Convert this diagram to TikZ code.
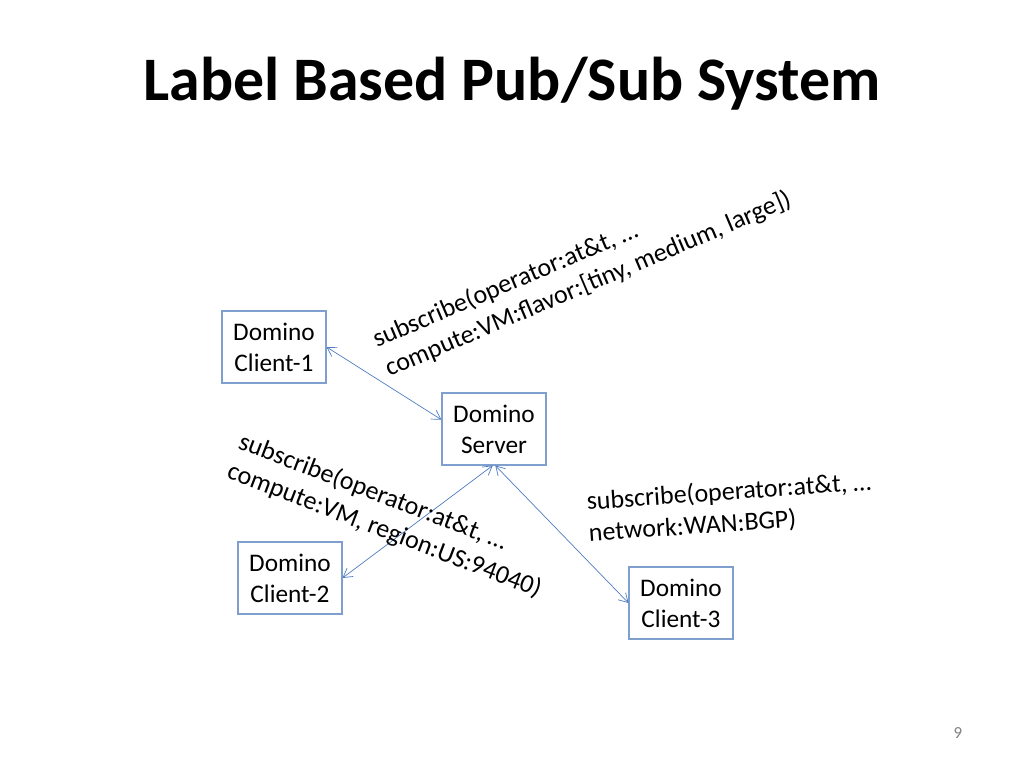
\documentclass[tikz,border=0pt]{standalone}
\usepackage{fontspec}
\setmainfont{Carlito}
\usetikzlibrary{arrows.meta}
\definecolor{boxblue}{HTML}{7F9FCF}
\definecolor{lineblue}{HTML}{4F7CC0}

\begin{document}
\begin{tikzpicture}
        \tikzset{vertex/.style = {shape=rectangle,draw=boxblue,line width=0.75pt,minimum width=2.6cm,minimum height=1.8cm,align=center,font=\fontsize{18}{22}\selectfont}}
        \tikzset{edge/.style = {draw=lineblue,line width=0.5pt,{Straight Barb[length=2.2mm,width=2.6mm]}-{Straight Barb[length=2.2mm,width=2.6mm]}}}
        \tikzset{msg/.style = {align=left,font=\fontsize{18.5}{22.5}\selectfont}}
        \useasboundingbox (0,0) rectangle (25.6,19.2);
        \node[font=\fontsize{44}{52}\selectfont\bfseries] (title) at (12.8,17.1) {Label Based Pub/Sub System};
        \node[vertex] (c1) at (6.85,10.525) {Domino\\Client-1};
        \node[vertex] (server) at (12.35,8.475) {Domino\\Server};
        \node[vertex] (c2) at (7.25,4.75) {Domino\\Client-2};
        \node[vertex] (c3) at (17.025,4.125) {Domino\\Client-3};
        \draw[edge] (c1.east) -- (server.170);
        \draw[edge] (server.-92) -- (c2.east);
        \draw[edge] (server.-88) -- (c3.west);
        \node[msg,rotate=23] (m1) at (14.55,12.45) {subscribe(operator:at\&t, \dots\\compute:VM:flavor:[tiny, medium, large])};
        \node[msg,rotate=-21] (m2) at (9.75,6.3) {subscribe(operator:at\&t, \dots\\compute:VM, region:US:94040)};
        \node[msg,rotate=4] (m3) at (18.25,6.5) {subscribe(operator:at\&t, \dots\\network:WAN:BGP)};
        \node[text=gray,font=\fontsize{12}{14}\selectfont] (page) at (23.95,0.875) {9};
\end{tikzpicture}
\end{document}
